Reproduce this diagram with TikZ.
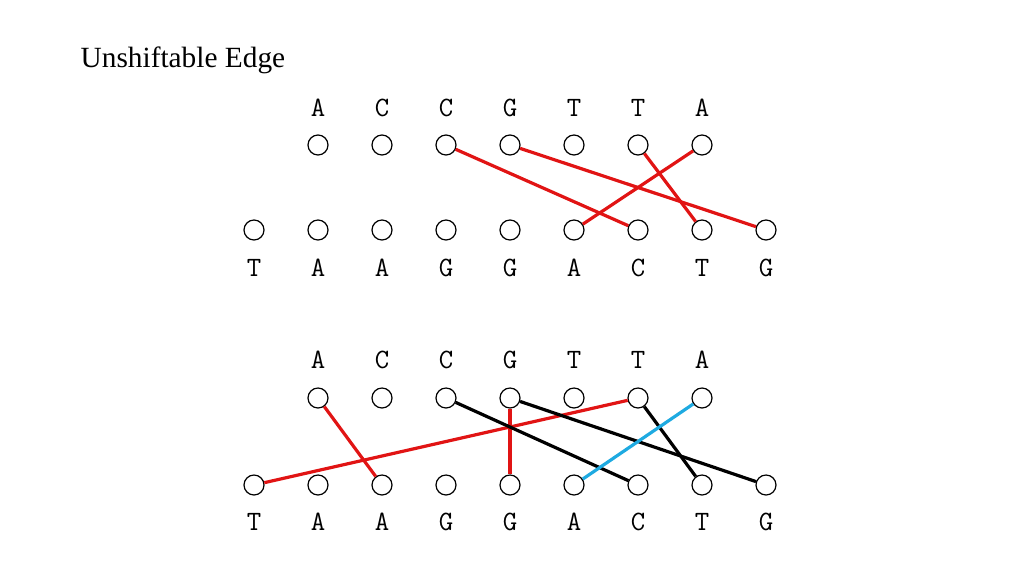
\documentclass[tikz,border=0pt]{standalone}
\usepackage{fontspec}
\setmainfont{Liberation Serif}
\begin{document}
\begin{tikzpicture}[x=0.75pt,y=-0.75pt,
  dot/.style={circle,draw,line width=0.9pt,minimum size=15pt,inner sep=0pt},
  lab/.style={font=\ttfamily\fontsize{21}{21}\selectfont},
  edge/.style={line width=2.4pt},
  red/.style={edge,draw={rgb,255:red,225;green,20;blue,20}},
  blk/.style={edge,draw=black},
  blu/.style={edge,draw={rgb,255:red,30;green,170;blue,225}}]
\useasboundingbox (0,0) rectangle (1024,576);
\node[anchor=west,font=\fontsize{22}{22}\selectfont] (title) at (76,60) {Unshiftable Edge};
\foreach \p/\yl/\yc/\yb/\ybl in {a/108/145/230/268, b/360/398/485/522}{
  \foreach \L [count=\i] in {A,C,C,G,T,T,A}{
    \node[lab] (\p t\i l) at (254+64*\i,\yl) {\L};
    \node[dot] (\p t\i) at (254+64*\i,\yc) {};
  }
  \foreach \L [count=\i] in {T,A,A,G,G,A,C,T,G}{
    \node[dot] (\p b\i) at (190+64*\i,\yb) {};
    \node[lab] (\p b\i l) at (190+64*\i,\ybl) {\L};
  }
}
\draw[red] (at3) -- (ab7);
\draw[red] (at4) -- (ab9);
\draw[red] (at6) -- (ab8);
\draw[red] (at7) -- (ab6);
\draw[red] (bt1) -- (bb3);
\draw[red] (bt4) -- (bb5);
\draw[red] (bt6) -- (bb1);
\draw[blk] (bt3) -- (bb7);
\draw[blk] (bt4) -- (bb9);
\draw[blk] (bt6) -- (bb8);
\draw[blu] (bt7) -- (bb6);
\end{tikzpicture}
\end{document}
